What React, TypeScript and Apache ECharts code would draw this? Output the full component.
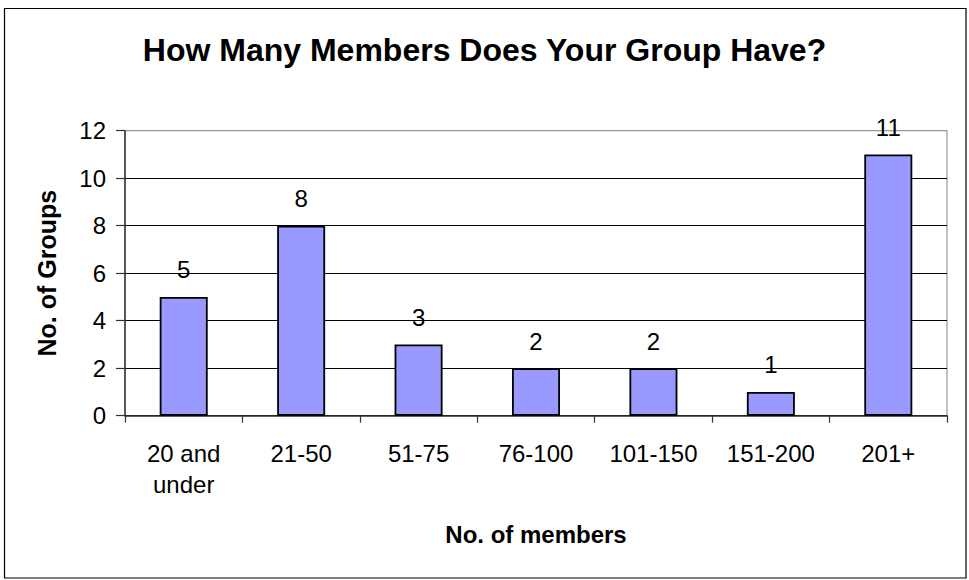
import React, { useEffect, useRef } from "react";
import * as echarts from "echarts";

const categories = ["20 and\nunder", "21-50", "51-75", "76-100", "101-150", "151-200", "201+"];
const groupCounts = [5, 8, 3, 2, 2, 1, 11];
const titleText = "How Many Members Does Your Group Have?";
const yAxisName = "No. of Groups";
const xAxisName = "No. of members";

const FONT = '"Liberation Sans", Arial, Helvetica, sans-serif';

export default function App() {
  const ref = useRef<HTMLDivElement>(null);
  useEffect(() => {
    if (!ref.current) return;
    const chart = echarts.init(ref.current, undefined, { renderer: "svg" });
    chart.setOption({
      animation: false,
      backgroundColor: "#ffffff",
      textStyle: { fontFamily: FONT },
      title: {
        text: titleText,
        left: "center",
        top: 34,
        padding: 0,
        textStyle: { fontSize: 32, fontWeight: "bold", color: "#000", fontFamily: FONT },
      },
      graphic: [
        {
          type: "rect",
          shape: { x: 4.5, y: 8.5, width: 961.5, height: 569.5 },
          style: { fill: "none", stroke: "#000", lineWidth: 1.2 },
          silent: true,
        },
      ],
      grid: {
        left: 125,
        right: 22,
        top: 130.7,
        bottom: 164.3,
        show: true,
        borderColor: "#999",
        borderWidth: 1.2,
        backgroundColor: "transparent",
      },
      xAxis: {
        type: "category",
        data: categories,
        name: xAxisName,
        nameLocation: "middle",
        nameGap: 107,
        nameTextStyle: { fontSize: 24, fontWeight: "bold", color: "#000", fontFamily: FONT },
        axisLine: { lineStyle: { color: "#333", width: 1.5 } },
        axisTick: { show: true, length: 7, lineStyle: { color: "#333", width: 1.2 } },
        axisLabel: {
          fontSize: 24,
          color: "#000",
          margin: 22,
          lineHeight: 31,
          fontFamily: FONT,
          interval: 0,
        },
      },
      yAxis: {
        type: "value",
        min: 0,
        max: 12,
        interval: 2,
        name: yAxisName,
        nameLocation: "middle",
        nameGap: 66,
        nameRotate: 90,
        nameTextStyle: { fontSize: 25, fontWeight: "bold", color: "#000", fontFamily: FONT },
        axisLine: { show: true, lineStyle: { color: "#333", width: 1.5 } },
        axisTick: { show: true, length: 9, lineStyle: { color: "#333", width: 1.2 } },
        axisLabel: { fontSize: 24, color: "#000", margin: 19, fontFamily: FONT },
        splitLine: {
          show: true,
          lineStyle: {
            color: ["#000", "#000", "#000", "#000", "#000", "#000", "#999"],
            width: 1,
          },
        },
      },
      series: [
        {
          type: "bar",
          data: groupCounts,
          barWidth: 48,
          itemStyle: { color: "#9999FF", borderColor: "#000", borderWidth: 1.8 },
          label: {
            show: true,
            position: "top",
            distance: 15,
            fontSize: 24,
            color: "#000",
            fontFamily: FONT,
          },
        },
      ],
    });
    return () => chart.dispose();
  }, []);
  return (
    <div
      ref={ref}
      style={{ position: "absolute", left: 0, top: 0, width: 969, height: 580 }}
    />
  );
}
